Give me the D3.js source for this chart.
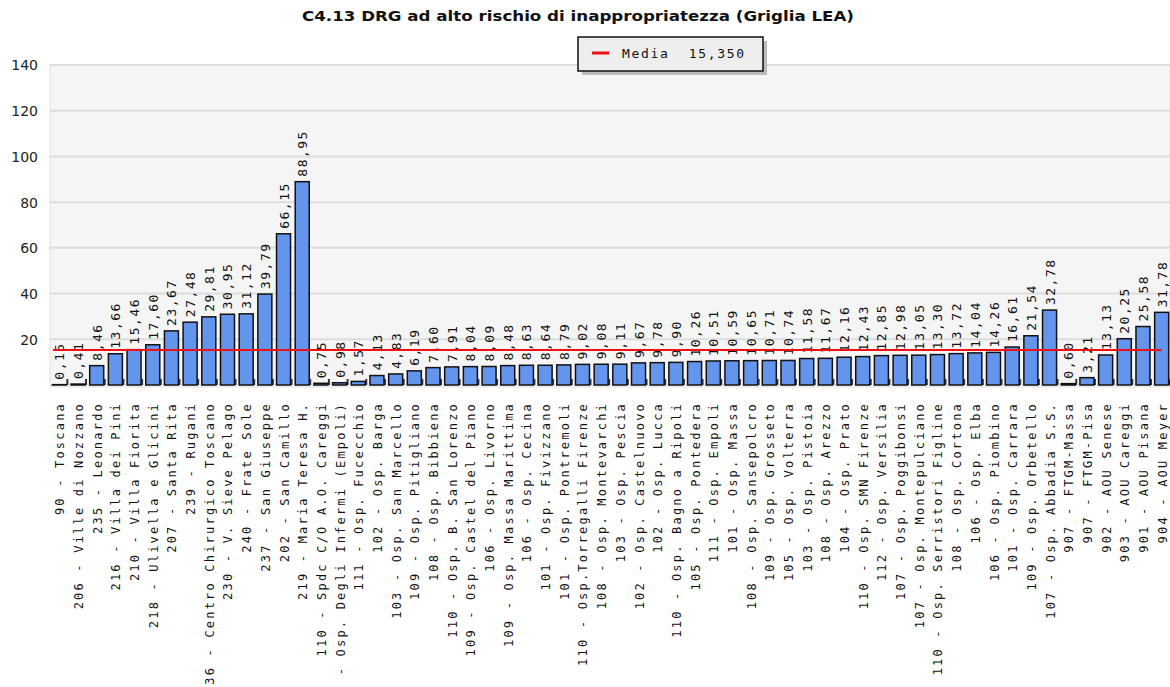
<!DOCTYPE html>
<html>
<head>
<meta charset="utf-8">
<script src="https://cdn.jsdelivr.net/npm/d3@7"></script>
<style>
  html, body { margin: 0; padding: 0; background: #ffffff; }
  svg { display: block; }
</style>
</head>
<body>
<svg id="chart" width="1170" height="687"></svg>
<script>
const titleText = "C4.13 DRG ad alto rischio di inappropriatezza (Griglia LEA)";
const categories = [
  "90 - Toscana",
  "206 - Ville di Nozzano",
  "235 - Leonardo",
  "216 - Villa dei Pini",
  "210 - Villa Fiorita",
  "218 - Ulivella e Glicini",
  "207 - Santa Rita",
  "239 - Rugani",
  "236 - Centro Chirurgico Toscano",
  "230 - V. Sieve Pelago",
  "240 - Frate Sole",
  "237 - San Giuseppe",
  "202 - San Camillo",
  "219 - Maria Teresa H.",
  "110 - Spdc C/O A.O. Careggi",
  "111 - Osp. Degli Infermi (Empoli)",
  "111 - Osp. Fucecchio",
  "102 - Osp. Barga",
  "103 - Osp. San Marcello",
  "109 - Osp. Pitigliano",
  "108 - Osp. Bibbiena",
  "110 - Osp. B. San Lorenzo",
  "109 - Osp. Castel del Piano",
  "106 - Osp. Livorno",
  "109 - Osp. Massa Marittima",
  "106 - Osp. Cecina",
  "101 - Osp. Fivizzano",
  "101 - Osp. Pontremoli",
  "110 - Osp.Torregalli Firenze",
  "108 - Osp. Montevarchi",
  "103 - Osp. Pescia",
  "102 - Osp. Castelnuovo",
  "102 - Osp. Lucca",
  "110 - Osp. Bagno a Ripoli",
  "105 - Osp. Pontedera",
  "111 - Osp. Empoli",
  "101 - Osp. Massa",
  "108 - Osp. Sansepolcro",
  "109 - Osp. Grosseto",
  "105 - Osp. Volterra",
  "103 - Osp. Pistoia",
  "108 - Osp. Arezzo",
  "104 - Osp. Prato",
  "110 - Osp. SMN Firenze",
  "112 - Osp. Versilia",
  "107 - Osp. Poggibonsi",
  "107 - Osp. Montepulciano",
  "110 - Osp. Serristori Figline",
  "108 - Osp. Cortona",
  "106 - Osp. Elba",
  "106 - Osp. Piombino",
  "101 - Osp. Carrara",
  "109 - Osp. Orbetello",
  "107 - Osp. Abbadia S.S.",
  "907 - FTGM-Massa",
  "907 - FTGM-Pisa",
  "902 - AOU Senese",
  "903 - AOU Careggi",
  "901 - AOU Pisana",
  "904 - AOU Meyer"
];
const values = [
  0.15, 0.41, 8.46, 13.66, 15.46, 17.60, 23.67, 27.48, 29.81, 30.95,
  31.12, 39.79, 66.15, 88.95, 0.75, 0.98, 1.57, 4.13, 4.83, 6.19,
  7.60, 7.91, 8.04, 8.09, 8.48, 8.63, 8.64, 8.79, 9.02, 9.08,
  9.11, 9.67, 9.78, 9.90, 10.26, 10.51, 10.59, 10.65, 10.71, 10.74,
  11.58, 11.67, 12.16, 12.43, 12.85, 12.98, 13.05, 13.30, 13.72, 14.04,
  14.26, 16.61, 21.54, 32.78, 0.60, 3.21, 13.13, 20.25, 25.58, 31.78
];
const yTicks = [20, 40, 60, 80, 100, 120, 140];
const meanValue = 15.350;
const legendLabel = "Media";
const legendValue = "15,350";

const fmt = v => v.toFixed(2).replace(".", ",");

const svg = d3.select("#chart");
const plot = { left: 50, right: 1170, top: 65, bottom: 385 };

const x = d3.scaleBand()
  .domain(categories)
  .range([plot.left, plot.right + 1])
  .paddingInner(0.25)
  .paddingOuter(0.125);

const y = d3.scaleLinear()
  .domain([0, 140])
  .range([plot.bottom, plot.top]);

// title
svg.append("text")
  .attr("x", 578).attr("y", 21)
  .attr("text-anchor", "middle")
  .attr("font-family", "'DejaVu Sans', Verdana, sans-serif")
  .attr("font-weight", "bold")
  .attr("font-size", 14)
  .attr("fill", "#111")
  .attr("textLength", 552)
  .attr("lengthAdjust", "spacingAndGlyphs")
  .text(titleText);

// plot background
svg.append("rect")
  .attr("x", plot.left).attr("y", plot.top)
  .attr("width", plot.right - plot.left)
  .attr("height", plot.bottom - plot.top + 2)
  .attr("fill", "#f5f5f5")
  .attr("stroke", "#e2e2e2")
  .attr("stroke-width", 1);

// gridlines
svg.append("g")
  .selectAll("line")
  .data(yTicks)
  .join("line")
  .attr("x1", plot.left).attr("x2", plot.right)
  .attr("y1", d => y(d)).attr("y2", d => y(d))
  .attr("stroke", "#dcdcdc")
  .attr("stroke-width", 2);

// y axis labels
const yAxis = d3.axisLeft(y).tickValues(yTicks).tickSize(0).tickPadding(0);
const yg = svg.append("g")
  .attr("transform", `translate(${plot.left - 12},0)`)
  .call(yAxis);
yg.select(".domain").remove();
yg.selectAll("text")
  .attr("font-family", "'DejaVu Sans', Verdana, sans-serif")
  .attr("font-size", 14)
  .attr("fill", "#222")
  .attr("dy", "0.35em");

const data = categories.map((c, i) => ({ c, v: values[i] }));

// bar foot shadows
svg.append("g")
  .selectAll("rect")
  .data(data)
  .join("rect")
  .attr("x", d => x(d.c) + x.bandwidth())
  .attr("y", plot.bottom - 6)
  .attr("width", 2)
  .attr("height", 6)
  .attr("fill", "#333");

// bars
svg.append("g")
  .selectAll("rect")
  .data(data)
  .join("rect")
  .attr("x", d => x(d.c))
  .attr("y", d => y(d.v))
  .attr("width", x.bandwidth())
  .attr("height", d => y(0) - y(d.v))
  .attr("fill", "#6495ed")
  .attr("stroke", "#111")
  .attr("stroke-width", 1.5);

// value labels
svg.append("g")
  .selectAll("text")
  .data(data)
  .join("text")
  .attr("transform", d => `translate(${x(d.c) + x.bandwidth() / 2 + 5},${y(d.v) - 5}) rotate(-90)`)
  .attr("text-anchor", "start")
  .attr("font-family", "'DejaVu Sans Mono', monospace")
  .attr("font-size", 13)
  .attr("letter-spacing", 1.5)
  .attr("fill", "#111")
  .text(d => fmt(d.v));

// x labels
const xAxis = d3.axisBottom(x).tickSize(0).tickPadding(0);
const xg = svg.append("g")
  .attr("transform", `translate(0,${plot.bottom})`)
  .call(xAxis);
xg.select(".domain").remove();
xg.selectAll("text")
  .attr("transform", "translate(5,17) rotate(-90)")
  .attr("text-anchor", "end")
  .attr("dy", 0)
  .attr("y", 0)
  .attr("font-family", "'DejaVu Sans Mono', monospace")
  .attr("font-size", 12)
  .attr("letter-spacing", 2.2)
  .attr("fill", "#111");

// mean line
svg.append("line")
  .attr("x1", plot.left + 3)
  .attr("x2", x(categories[categories.length - 1]) + x.bandwidth() / 2)
  .attr("y1", y(meanValue)).attr("y2", y(meanValue))
  .attr("stroke", "#ee1111")
  .attr("stroke-width", 2);

// legend
const lg = svg.append("g").attr("transform", "translate(578,37)");
lg.append("rect")
  .attr("x", 4).attr("y", 4).attr("width", 185).attr("height", 34)
  .attr("fill", "#bbbbbb");
lg.append("rect")
  .attr("x", 0).attr("y", 0).attr("width", 185).attr("height", 34)
  .attr("fill", "#eeeeee")
  .attr("stroke", "#111")
  .attr("stroke-width", 1.5);
lg.append("line")
  .attr("x1", 14).attr("x2", 31).attr("y1", 16).attr("y2", 16)
  .attr("stroke", "#ee1111").attr("stroke-width", 3);
lg.append("text")
  .attr("x", 44).attr("y", 21)
  .attr("font-family", "'DejaVu Sans Mono', monospace")
  .attr("font-size", 13)
  .attr("letter-spacing", 1.7)
  .attr("fill", "#111")
  .attr("xml:space", "preserve")
  .text(legendLabel + "  " + legendValue);
</script>
</body>
</html>
